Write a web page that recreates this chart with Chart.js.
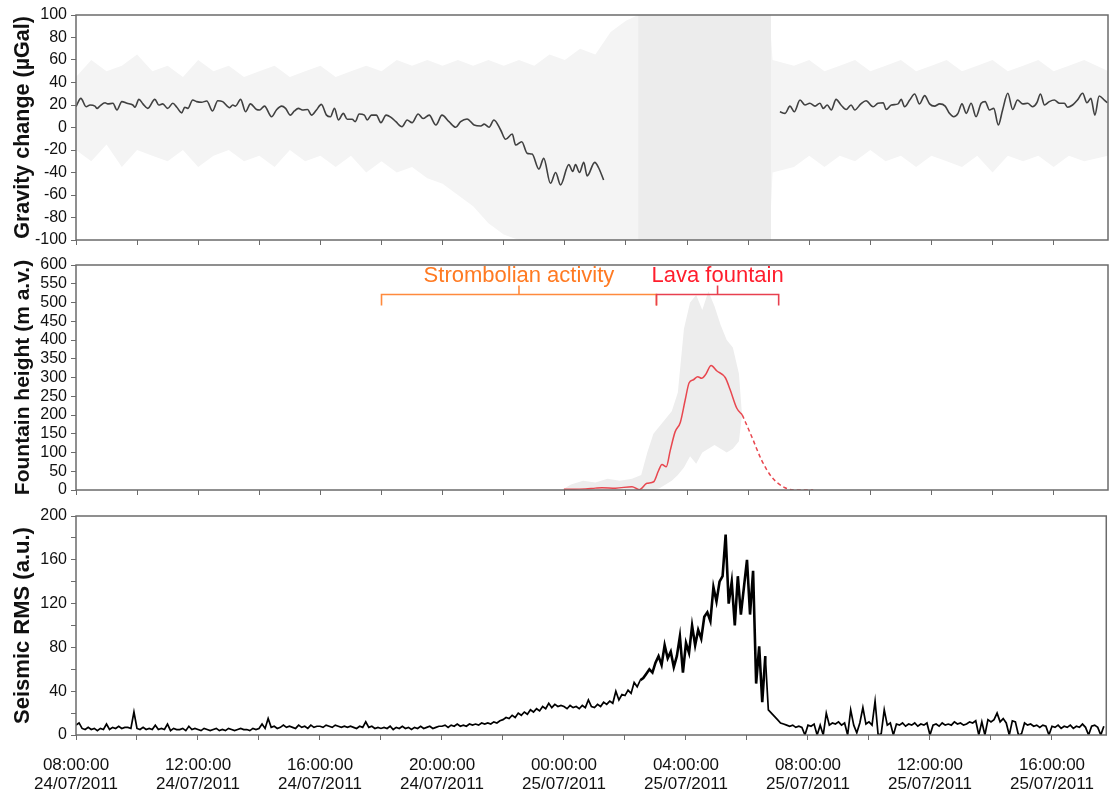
<!DOCTYPE html>
<html>
<head>
<meta charset="utf-8">
<script src="https://cdn.jsdelivr.net/npm/chart.js@4.4.0/dist/chart.umd.min.js"></script>
<style>
  html, body { margin: 0; padding: 0; background: #fff; }
  #wrap { position: relative; width: 1110px; height: 794px; }
  canvas { position: absolute; left: 0; }
</style>
</head>
<body>
<div id="wrap">
  <canvas id="gravityChart" width="1110" height="250" style="top:0"></canvas>
  <canvas id="fountainChart" width="1110" height="250" style="top:250px"></canvas>
  <canvas id="seismicChart" width="1110" height="294" style="top:500px"></canvas>
</div>
<script>
// All times are hours after 08:00:00 24/07/2011

// x axis tick labels
const tickHours = [0, 4, 8, 12, 16, 20, 24, 28, 32];
const tickTimes = ['08:00:00', '12:00:00', '16:00:00', '20:00:00', '00:00:00', '04:00:00', '08:00:00', '12:00:00', '16:00:00'];
const tickDates = ['24/07/2011', '24/07/2011', '24/07/2011', '24/07/2011', '25/07/2011', '25/07/2011', '25/07/2011', '25/07/2011', '25/07/2011'];

// Gravity: smoothed signal before and after the gap
const gravPreTime = [0,0.16,0.33,0.46,0.62,0.69,0.78,0.95,1.04,1.21,1.34,1.50,1.67,1.86,1.93,2.06,2.19,2.35,2.58,2.71,
  2.84,3.00,3.17,3.30,3.46,3.56,3.66,3.82,3.95,4.11,4.28,4.47,4.64,4.80,5.03,5.13,5.22,5.39,5.55,5.71,
  5.91,6.01,6.17,6.40,6.56,6.73,6.86,7.02,7.15,7.28,7.41,7.58,7.71,7.87,8.03,8.20,8.33,8.46,8.59,8.75,
  8.88,9.04,9.14,9.27,9.44,9.53,9.67,9.83,9.98,10.15,10.31,10.47,10.67,10.84,11.00,11.20,11.36,11.56,11.78,11.98,
  12.21,12.43,12.59,12.80,13.03,13.25,13.36,13.52,13.68,13.90,14.06,14.28,14.39,14.59,14.77,14.93,15.15,15.31,15.53,15.70,
  15.86,16.13,16.26,16.35,16.48,16.62,16.73,16.98,17.11,17.27];
const gravPre = [18.5,25.9,18.5,20,19,17,19,22,21,21.5,15.6,23,21.5,20,18,25,21,17,25,20,
  21,17,21.5,18,13,18,17,24.4,23,22.4,23.6,14.7,23.8,23,17.6,20,19,25,14,21,
  16,15.6,19,9.6,15.6,19,17,11,14.7,17,15.6,16,11,15.6,20.6,11,9.6,17,6.7,12.6,
  7.3,7.3,5.2,12,11,6.7,11,11,4.3,11,9,5.2,0.7,6.7,4.3,12,8,11,2.2,11,
  5.2,0.2,5.2,7.6,2.2,1.3,3,0.2,6.7,-2.2,-10.5,-5.8,-15.6,-12.6,-23,-23.6,-37,-27.4,-49.6,-40,
  -51,-33,-39,-33,-40,-31,-43,-31,-36,-46.7];
const gravPostTime = [23.04,23.21,23.37,23.51,23.70,23.86,24.02,24.19,24.35,24.46,24.59,24.72,24.88,25.04,25.21,25.37,25.49,25.69,25.86,26.09,
  26.25,26.42,26.52,26.69,26.91,27.01,27.12,27.29,27.45,27.61,27.78,27.94,28.10,28.27,28.45,28.59,28.73,28.87,29.00,29.14,
  29.30,29.46,29.63,29.76,29.90,30.04,30.19,30.33,30.50,30.66,30.82,30.99,31.15,31.31,31.45,31.57,31.70,31.86,32.02,32.19,
  32.35,32.46,32.62,32.78,32.95,33.09,33.22,33.35,33.49,33.66,33.76];
const gravPost = [14,12.6,19,14,24.4,20,21.5,19,21.5,17,20,15.6,25,20,16,20,15.6,21,23.8,18.5,
  21.5,22,16,20,21,25,18.5,24.4,29.8,21,28.3,21,19,21,19,12.6,9.6,12.6,21,12.6,
  21.5,9.6,21.5,23,15.6,17,2.2,15.6,30.4,16,24.4,21,21.5,18.5,22,29.8,20,23,24.4,21.5,
  21.5,18,20,24.4,30.4,22,25.9,11,28,24.4,22];

// Gravity: envelope of the raw (unfiltered) record
const gravRawTime = [0,0.5,1,1.5,2,2.5,3,3.5,4,4.5,5,5.5,6,6.5,7,7.5,8,8.5,9,9.5,10,10.5,11,11.5,12,12.5,13,13.5,14,14.5,
  15,15.5,16,16.5,17,17.5,18,18.4,22.7,22.8,23.5,24,24.5,25,25.5,26,26.5,27,27.5,28,28.5,29,29.5,30,30.5,31,31.5,32,32.5,33,33.8];
const gravRawLow = [-20,-30,-15,-35,-20,-25,-30,-20,-35,-25,-20,-30,-25,-35,-20,-30,-25,-35,-25,-40,-30,-40,-35,-45,-50,-60,-70,-85,-95,-100,
  -100,-100,-100,-100,-100,-100,-100,-100,-100,-40,-35,-25,-35,-25,-30,-20,-30,-25,-35,-25,-30,-35,-25,-40,-25,-30,-25,-35,-25,-30,-25];
const gravRawHigh = [45,60,50,55,65,50,55,45,60,50,55,45,50,55,45,50,55,45,50,55,50,60,55,60,55,60,55,60,55,60,
  55,65,60,70,65,85,95,100,100,60,55,60,50,55,60,50,55,60,50,55,60,50,55,60,50,55,60,50,55,60,50];
// saturated part of the raw record (full scale)
const gravSatTime = [18.4, 22.75];
const gravSatLow = [-100, -100];
const gravSatHigh = [100, 100];

// Fountain height: smoothed (solid), extrapolated tail (dashed) and raw envelope
const fountainTime = [15.97,16.3,16.68,17.0,17.22,17.66,18.2,18.44,18.69,18.91,19.07,19.18,19.32,19.45,19.61,19.78,19.94,20.07,20.21,20.35,
  20.48,20.61,20.79,20.97,21.25,21.41,21.63,21.81];
const fountainVal = [2,2,3,5,6,5,9,1,18,22,52,68,62,105,155,180,240,286,294,302,
  298,308,332,318,300,268,218,200];
const fountainTailTime = [21.81,22.12,22.44,22.77,23.21,23.64,24.13];
const fountainTail = [200,142,80,35,6,0,0];
const fountainRawTime = [15.9,16.2,16.6,17.0,17.4,17.8,18.2,18.5,18.7,18.9,19.1,19.3,19.5,19.7,19.9,20.1,20.3,20.5,20.7,20.9,21.1,21.3,21.5,21.7,21.8];
const fountainRawLow = [0,0,0,0,0,0,0,0,0,0,5,15,25,40,60,90,70,100,110,120,110,100,110,130,200];
const fountainRawHigh = [0,15,25,20,30,25,30,40,100,150,170,190,210,260,430,500,520,480,530,490,440,400,380,310,200];

// Activity phases (hours)
const phaseNames = ['Strombolian activity', 'Lava fountain'];
const phaseStart = [10, 19];
const phaseEnd = [19, 23];

// Seismic RMS, one sample every 0.1 h (each row = 2 h)
const SEIS_STEP = 0.1;
const seismicRms = [
  9,11,6,5,7,5,6,4,6,5,10,5,7,6,8,6,7,7,6,21,
  6,5,7,5,6,5,9,5,6,5,10,4,6,5,5,6,4,8,5,6,
  5,4,6,5,4,5,6,4,5,4,6,5,4,5,6,5,5,4,6,5,
  6,10,6,15,7,8,6,7,9,7,8,7,6,9,7,8,6,9,7,8,
  8,7,9,8,7,9,8,7,8,7,8,7,6,8,7,12,7,8,6,7,
  6,7,6,8,5,7,6,8,6,7,5,7,6,8,6,7,8,6,7,8,
  8,9,7,9,8,10,8,9,8,10,9,10,9,11,10,11,10,12,11,13,
  14,16,15,18,16,20,18,21,19,23,21,24,22,26,24,29,25,28,26,27,
  26,24,27,25,26,24,27,25,32,26,25,28,26,30,28,31,29,40,32,37,
  36,41,38,48,44,50,52,56,60,57,66,72,64,82,70,76,62,72,90,57,
  84,75,100,82,96,88,108,112,104,135,122,140,145,183,120,140,100,145,110,135,
  160,110,150,47,81,30,72,23,20,17,14,11,10,9,8,9,7,8,7,0,
  9,8,10,0,9,0,20,9,11,10,12,9,11,0,23,9,2,11,25,10,
  12,9,31,0,1,23,9,11,0,10,9,11,8,10,9,11,8,10,9,11,
  0,9,10,8,11,9,10,9,12,10,11,9,10,12,11,13,0,12,0,14,
  12,14,20,12,15,11,0,13,12,0,1,11,9,10,8,9,7,9,8,0,
  8,7,9,6,8,7,9,6,8,7,10,7,0,8,9,7,0,8
];

const FONT = '"Liberation Sans", Arial, sans-serif';
const AXIS = '#6b6b6b';
const X_MAX = 33.78;

Chart.defaults.font.family = FONT;
Chart.defaults.color = '#111';

const pairs = (xs, ys) => xs.map((x, i) => ({ x: x, y: ys[i] }));

// Plot frame drawn over the data
const framePlugin = {
    id: 'frame',
    afterDatasetsDraw(chart) {
        const { ctx, chartArea: a } = chart;
        ctx.save();
        ctx.strokeStyle = AXIS;
        ctx.lineWidth = 1.5;
        ctx.strokeRect(a.left, a.top, a.right - a.left, a.bottom - a.top);
        ctx.restore();
    }
};

// Brackets + labels for the eruptive phases
const phaseLine = ['#ff8a3d', '#e8404f'];
const phaseText = ['#ff7a22', '#ff1e2d'];
const phasePlugin = {
    id: 'phases',
    afterDatasetsDraw(chart) {
        const { ctx, chartArea: a, scales } = chart;
        const barY = a.top + 29.5;
        ctx.save();
        ctx.lineWidth = 1.6;
        ctx.font = '22px ' + FONT;
        ctx.textAlign = 'center';
        ctx.textBaseline = 'alphabetic';
        phaseNames.forEach((name, i) => {
            const x0 = scales.x.getPixelForValue(phaseStart[i]);
            const x1 = scales.x.getPixelForValue(phaseEnd[i]);
            const xm = (x0 + x1) / 2;
            ctx.strokeStyle = phaseLine[i];
            ctx.beginPath();
            ctx.moveTo(x0, barY + 11);
            ctx.lineTo(x0, barY);
            ctx.lineTo(x1, barY);
            ctx.lineTo(x1, barY + 11);
            ctx.moveTo(xm, barY);
            ctx.lineTo(xm, barY - 9);
            ctx.stroke();
            ctx.fillStyle = phaseText[i];
            ctx.fillText(name, xm, a.top + 17);
        });
        ctx.restore();
    }
};

function xAxis(showLabels, height) {
    return {
        type: 'linear',
        min: 0,
        max: X_MAX,
        afterFit: s => { s.height = height; },
        border: { display: false },
        grid: { drawOnChartArea: false, drawTicks: true, tickLength: 5, color: AXIS },
        ticks: {
            display: showLabels,
            stepSize: 2,
            includeBounds: false,
            autoSkip: false,
            maxRotation: 0,
            padding: 16,
            color: '#111',
            font: { size: 17, lineHeight: 1.1 },
            callback: v => {
                const i = tickHours.indexOf(v);
                return i < 0 ? '' : [tickTimes[i], tickDates[i]];
            }
        }
    };
}

function yAxis(title, titleSize, min, max, step, labelEvery) {
    return {
        min: min,
        max: max,
        afterFit: s => {
            s.width = 76;
            // the canvas padding already leaves room for the end labels
            s.paddingTop = 0;
            s.paddingBottom = 0;
        },
        border: { display: false },
        grid: { drawOnChartArea: false, drawTicks: true, tickLength: 5, color: AXIS },
        ticks: {
            stepSize: step,
            autoSkip: false,
            padding: 4,
            color: '#111',
            font: { size: 16 },
            callback: v => (v % labelEvery === 0 ? String(v) : '')
        },
        title: {
            display: true,
            text: title,
            color: '#111',
            font: { size: titleSize, weight: 'bold' },
            padding: { top: 23 - titleSize * 0.6, bottom: 0 }
        }
    };
}

function baseOptions(padTop, xCfg, yCfg) {
    return {
        responsive: false,
        animation: false,
        events: [],
        layout: { padding: { top: padTop, right: 2, left: 0, bottom: 0 } },
        plugins: { legend: { display: false }, tooltip: { enabled: false } },
        elements: { point: { radius: 0 } },
        scales: { x: xCfg, y: yCfg }
    };
}

const NONE = 'rgba(0,0,0,0)';

// Gravity panel
new Chart(document.getElementById('gravityChart'), {
    type: 'line',
    data: {
        datasets: [
            { data: pairs(gravPreTime, gravPre), borderColor: '#404040', borderWidth: 1.6, cubicInterpolationMode: 'monotone', order: 0 },
            { data: pairs(gravPostTime, gravPost), borderColor: '#404040', borderWidth: 1.6, cubicInterpolationMode: 'monotone', order: 0 },
            { data: pairs(gravRawTime, gravRawLow), borderColor: NONE, borderWidth: 0, fill: false, order: 4 },
            { data: pairs(gravRawTime, gravRawHigh), borderColor: NONE, borderWidth: 0, fill: '-1', backgroundColor: '#f4f4f4', order: 3 },
            { data: pairs(gravSatTime, gravSatLow), borderColor: NONE, borderWidth: 0, fill: false, order: 2 },
            { data: pairs(gravSatTime, gravSatHigh), borderColor: NONE, borderWidth: 0, fill: '-1', backgroundColor: '#ececec', order: 1 }
        ]
    },
    options: baseOptions(15, xAxis(false, 10), yAxis('Gravity change (\u00b5Gal)', 21.5, -100, 100, 20, 20)),
    plugins: [framePlugin]
});

// Fountain panel
new Chart(document.getElementById('fountainChart'), {
    type: 'line',
    data: {
        datasets: [
            { data: pairs(fountainTime, fountainVal), borderColor: '#e8474f', borderWidth: 1.5, cubicInterpolationMode: 'monotone', order: 0 },
            { data: pairs(fountainTailTime, fountainTail), borderColor: '#e8474f', borderWidth: 1.5, borderDash: [4, 3], cubicInterpolationMode: 'monotone', order: 0 },
            { data: pairs(fountainRawTime, fountainRawLow), borderColor: NONE, borderWidth: 0, fill: false, order: 2 },
            { data: pairs(fountainRawTime, fountainRawHigh), borderColor: NONE, borderWidth: 0, fill: '-1', backgroundColor: '#ededed', order: 1 }
        ]
    },
    options: baseOptions(15, xAxis(false, 10), yAxis('Fountain height (m a.v.)', 21, 0, 600, 50, 50)),
    plugins: [framePlugin, phasePlugin]
});

// Seismic panel: the strongly oscillating part around the paroxysm is drawn heavier
const inParoxysm = ctx => ctx.p0.parsed.x >= 18.5 && ctx.p0.parsed.x < 22.6;
new Chart(document.getElementById('seismicChart'), {
    type: 'line',
    data: {
        datasets: [
            {
                data: seismicRms.map((v, i) => ({ x: i * SEIS_STEP, y: v })),
                borderColor: '#000',
                borderWidth: 1.7,
                tension: 0,
                segment: { borderWidth: ctx => (inParoxysm(ctx) ? 2.6 : 1.7) }
            }
        ]
    },
    options: baseOptions(16, xAxis(true, 59), yAxis('Seismic RMS (a.u.)', 22, 0, 200, 20, 40)),
    plugins: [framePlugin]
});
</script>
</body>
</html>
